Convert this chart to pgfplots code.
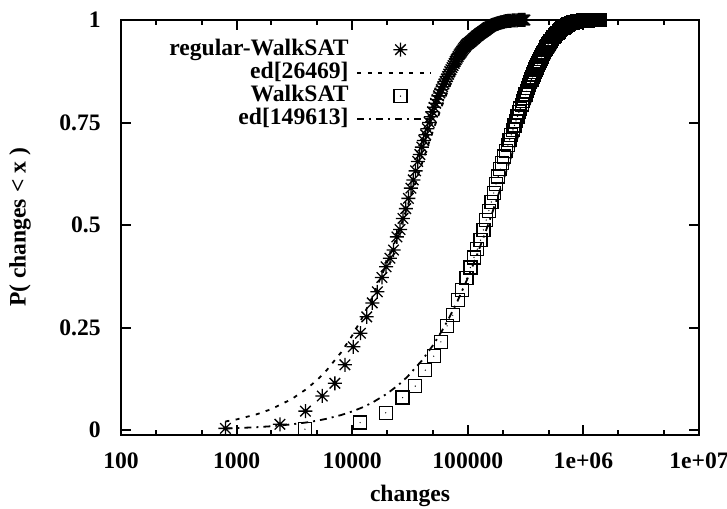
\documentclass[border=0pt]{standalone}
\usepackage{fontspec}
\setmainfont{Liberation Serif}
\usepackage{pgfplots}
\pgfplotsset{compat=1.18}
\pgfdeclareplotmark{gpast}{%
 \pgfpathmoveto{\pgfqpoint{-\pgfplotmarksize}{0pt}}\pgfpathlineto{\pgfqpoint{\pgfplotmarksize}{0pt}}%
 \pgfpathmoveto{\pgfqpoint{0pt}{-\pgfplotmarksize}}\pgfpathlineto{\pgfqpoint{0pt}{\pgfplotmarksize}}%
 \pgfpathmoveto{\pgfqpoint{-0.75\pgfplotmarksize}{-0.75\pgfplotmarksize}}\pgfpathlineto{\pgfqpoint{0.75\pgfplotmarksize}{0.75\pgfplotmarksize}}%
 \pgfpathmoveto{\pgfqpoint{-0.75\pgfplotmarksize}{0.75\pgfplotmarksize}}\pgfpathlineto{\pgfqpoint{0.75\pgfplotmarksize}{-0.75\pgfplotmarksize}}%
 \pgfusepathqstroke}
\pgfdeclareplotmark{gpsq}{%
 \pgfpathrectangle{\pgfqpoint{-\pgfplotmarksize}{-\pgfplotmarksize}}{\pgfqpoint{2\pgfplotmarksize}{2\pgfplotmarksize}}\pgfusepathqstroke
 \pgfpathcircle{\pgfpointorigin}{0.35pt}\pgfusepathqfill}
\pgfplotsset{
  markleg/.style={legend image code/.code={\draw[mark repeat=2,mark phase=2,##1] plot coordinates {(0bp,0bp) (21.5bp,0bp) (43bp,0bp)};}},
  lineleg/.style={legend image code/.code={\draw[##1] (0bp,0bp) -- (36.5bp,0bp);}},
}
\begin{document}
\fontsize{11.8bp}{14bp}\selectfont\bfseries
\begin{tikzpicture}[font=\fontsize{11.8bp}{14bp}\selectfont\bfseries]
\begin{axis}[
  scale only axis, width=289bp, height=207.5bp,
  xmode=log, log basis x=10, xmin=100, xmax=1e7,
  ymin=-0.0122, ymax=1,
  xtick={100,1000,10000,100000,1000000,10000000},
  xticklabels={100,1000,10000,100000,1e+06,1e+07},
  minor xtick={200,500,2000,5000,20000,50000,200000,500000,2000000,5000000},
  ytick={0,0.25,0.5,0.75,1},
  yticklabels={0,0.25,0.5,0.75,1},
  major tick length=5bp, minor tick length=2.5bp,
  tick style={line width=1bp, black},
  axis line style={line width=1bp},
  /pgf/number format/assume math mode=true,
  xticklabel style={anchor=base, inner sep=0pt, yshift=-16.5bp},
  yticklabel style={anchor=east, inner sep=0pt, xshift=-10bp},
  xlabel={changes}, ylabel={P( changes < x )},
  xlabel style={at={(rel axis cs:0.5,-0.1614)}, anchor=base, inner sep=0pt},
  ylabel style={at={(rel axis cs:-0.1747,0.5)}, anchor=center, rotate=0, inner sep=0pt},
  clip=false,
  legend plot pos=right,
  legend cell align=right,
  legend style={at={(rel axis cs:0.548,0.967)}, anchor=north east, draw=none, fill=none,
    column sep=4bp, row sep=0pt,
    nodes={inner sep=0pt, text height=8.6bp, text depth=3bp}},
]
\addplot[only marks, mark=gpast, mark size=3.5bp, line width=0.65bp, black, markleg]
coordinates {
(800,0.004) (2370,0.014) (3940,0.046) (5510,0.083) (7080,0.114) (8650,0.159)
(10220,0.203) (11790,0.236) (13360,0.276) (14930,0.310) (16500,0.337) (18070,0.372)
(19640,0.398) (21210,0.419) (22780,0.439) (24350,0.471) (25920,0.489) (27490,0.516)
(29060,0.540) (30630,0.565) (32200,0.590) (33770,0.610) (35340,0.632) (36910,0.655)
(38480,0.672) (40050,0.690) (41620,0.706) (43190,0.720) (44760,0.735) (46330,0.750)
(47900,0.764) (49470,0.776) (51040,0.787) (52610,0.797) (54180,0.806) (55750,0.815)
(57320,0.822) (58890,0.830) (60460,0.837) (62030,0.844) (63600,0.850) (65170,0.856)
(66740,0.862) (68310,0.868) (69880,0.874) (71450,0.879) (73020,0.884) (74590,0.889)
(76160,0.894) (77730,0.899) (79300,0.903) (80870,0.907) (82440,0.911) (84010,0.915)
(85580,0.918) (87150,0.921) (88720,0.924) (90290,0.927) (91860,0.930) (93430,0.933)
(95000,0.935) (96570,0.938) (98140,0.940) (99710,0.942) (101280,0.943) (102850,0.945)
(104420,0.946) (105990,0.948) (107560,0.949) (109130,0.951) (110700,0.952) (112270,0.954)
(113840,0.955) (115410,0.957) (116980,0.958) (118550,0.960) (120120,0.961) (121690,0.962)
(123260,0.963) (124830,0.965) (126400,0.966) (127970,0.967) (129540,0.968) (131110,0.969)
(132680,0.970) (134250,0.971) (135820,0.972) (137390,0.973) (138960,0.974) (140530,0.975)
(142100,0.976) (143670,0.977) (145240,0.978) (146810,0.979) (148380,0.980) (149950,0.981)
(151520,0.982) (154660,0.983) (157800,0.985) (160940,0.986) (164080,0.987)
(167220,0.988) (170360,0.989) (173500,0.990) (176640,0.991) (179780,0.992) (182920,0.992)
(186060,0.993) (189200,0.993) (192340,0.994) (195480,0.994) (198620,0.995) (201760,0.995)
(204900,0.996) (208040,0.996) (211180,0.997) (214320,0.997) (217460,0.997) (220600,0.998)
(223740,0.998) (226880,0.998) (230020,0.998) (233160,0.998)
(236300,0.998) (242580,0.999) (248860,0.999) (255140,0.999) (261420,0.999) (267700,0.999)
(273980,1.000) (280260,1.000) (286540,1.000) (292820,1.000) (299100,1.000) (305380,1.000)
(311660,1.000)
};
\addlegendentry{regular-WalkSAT}
\addplot[black, line width=0.9bp, dash pattern=on 2bp off 3.2bp, lineleg]
coordinates {
(800,0.02073) (1000,0.02585) (1500,0.03852) (2000,0.05102) (3000,0.07555)
(4000,0.09945) (5000,0.12272) (6000,0.14540) (8000,0.18902) (10000,0.23036)
(12000,0.26960) (15000,0.32484) (20000,0.40767) (25000,0.48037) (30000,0.54417)
(35000,0.60011) (40000,0.64917) (50000,0.73003) (60000,0.79222) (70000,0.84010)
(80000,0.87692) (100000,0.92713) (120000,0.95684) (150000,0.98032) (200000,0.99469)
(250000,0.99857) (300000,0.99961) (400000,0.99997) (500000,1.0)
};
\addlegendentry{ed[26469]}
\addplot[only marks, mark=gpsq, mark size=3.25bp, line width=0.65bp, black, markleg]
coordinates {
(3900,0.002) (11700,0.018) (19500,0.042) (27300,0.079) (35100,0.107) (42900,0.146)
(50700,0.180) (58500,0.215) (66300,0.254) (74100,0.280) (81900,0.317) (89700,0.341)
(97500,0.370) (105300,0.396) (113100,0.421) (120900,0.441) (128700,0.463) (136500,0.488)
(144300,0.512) (152100,0.535) (159900,0.556) (167700,0.578) (175500,0.600) (183300,0.618)
(191100,0.636) (198900,0.652) (206700,0.667) (214500,0.681) (222300,0.695) (230100,0.708)
(237900,0.720) (245700,0.732) (253500,0.743) (261300,0.754)
(269100,0.765) (276900,0.775) (284700,0.784) (292500,0.793) (300300,0.802) (308100,0.810)
(315900,0.818) (323700,0.826) (331500,0.834) (339300,0.841) (347100,0.848) (354900,0.855)
(362700,0.861) (370500,0.867) (378300,0.873) (386100,0.879) (393900,0.884) (401700,0.890)
(409500,0.895) (417300,0.900) (425100,0.905) (432900,0.910) (440700,0.914) (448500,0.918)
(456300,0.922) (464100,0.926) (471900,0.930) (479700,0.934) (487500,0.937) (495300,0.940)
(503100,0.943) (518700,0.948) (534300,0.953) (549900,0.958) (565500,0.962) (581100,0.966)
(596700,0.969) (612300,0.972) (627900,0.975) (643500,0.978) (659100,0.980) (674700,0.982)
(690300,0.984) (705900,0.986) (721500,0.987) (737100,0.989) (752700,0.990)
(783900,0.992) (815100,0.994) (846300,0.995) (877500,0.996) (908700,0.997) (939900,0.998)
(971100,0.998) (1002300,0.999) (1033500,0.999) (1064700,0.999) (1095900,0.999) (1127100,1.0)
(1158300,1.0) (1189500,1.0) (1220700,1.0) (1251900,1.0) (1283100,1.0) (1314300,1.0)
(1345500,1.0) (1376700,1.0)
};
\addlegendentry{WalkSAT}
\addplot[black, line width=0.9bp, dash pattern=on 3.5bp off 2.5bp on 1bp off 2.5bp, lineleg]
coordinates {
(800,0.0037) (1000,0.00462) (1500,0.00692) (2000,0.00922) (3000,0.01380)
(4000,0.01836) (5000,0.02290) (6000,0.02741) (8000,0.03638) (10000,0.04527)
(12000,0.05408) (15000,0.06713) (20000,0.08850) (25000,0.10937) (30000,0.12976)
(40000,0.16916) (50000,0.20675) (60000,0.24264) (70000,0.27698) (80000,0.30967)
(100000,0.37081) (120000,0.42647) (150000,0.50089) (200000,0.60410) (250000,0.68599)
(300000,0.75088) (400000,0.84326) (500000,0.90135) (600000,0.93797) (700000,0.96098)
(800000,0.97545) (1000000,0.99027) (1200000,0.99615) (1500000,0.99904)
};
\addlegendentry{ed[149613]}
\end{axis}
\pgfresetboundingbox
\path[use as bounding box] ([xshift=-60.5bp,yshift=-36.5bp]current axis.south west) rectangle ([xshift=14bp,yshift=10bp]current axis.north east);
\end{tikzpicture}
\end{document}
